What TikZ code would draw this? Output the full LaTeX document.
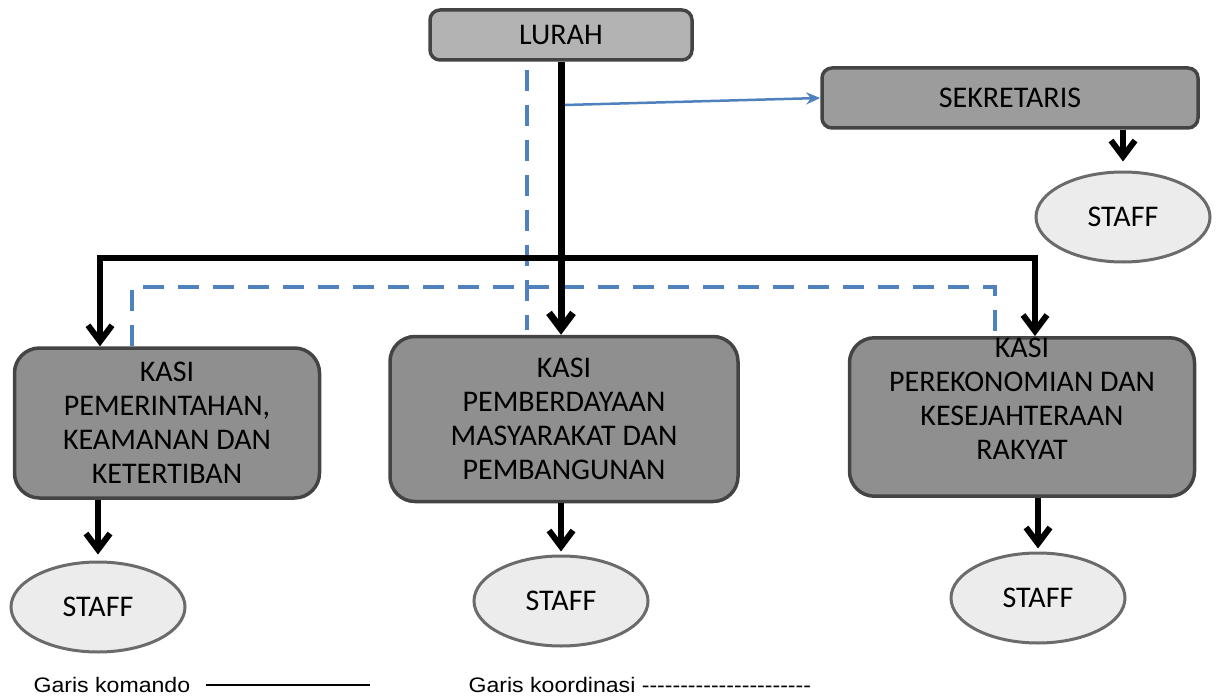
\documentclass[tikz,border=0pt]{standalone}
\usepackage{fontspec}
\setmainfont{Carlito}
\newfontfamily\legendfont[FakeStretch=1.1,Ligatures=TeXOff]{Liberation Sans}
\usepackage{tikz}
\usetikzlibrary{shapes,arrows,positioning,calc,arrows.meta}

\definecolor{lurahfill}{HTML}{B3B3B3}
\definecolor{sekfill}{HTML}{9C9C9C}
\definecolor{kasifill}{HTML}{8F8F8F}
\definecolor{rim}{HTML}{444444}
\definecolor{staffill}{HTML}{ECECEC}
\definecolor{staffrim}{HTML}{6B6B6B}
\definecolor{koordblue}{HTML}{4F81BD}

\begin{document}
\begin{tikzpicture}[x=1pt,y=-1pt,
        headbox/.style={draw=rim,line width=3.5pt,rounded corners=10pt,inner sep=0pt,font=\fontsize{30}{34}\selectfont},
        kasibox/.style={draw=rim,line width=3.5pt,fill=kasifill,rounded corners=25pt,align=center,inner sep=0pt,font=\fontsize{30}{34}\selectfont},
        staff/.style={ellipse,draw=staffrim,line width=3pt,fill=staffill,minimum width=174pt,minimum height=90pt,inner sep=0pt,font=\fontsize{30}{34}\selectfont},
        komando/.style={line width=6pt,-{Straight Barb[length=16pt,width=24pt]}},
        koord/.style={draw=koordblue,line width=4pt,dash pattern=on 21pt off 14pt},
        koordarrow/.style={draw=koordblue,line width=2.5pt,-{Stealth[length=14pt,width=12pt]}}]
        \useasboundingbox (0,0) rectangle (1221,698);

        \node[headbox,fill=lurahfill,minimum width=262pt,minimum height=50pt] (lurah) at (561,35) {LURAH};
        \node[headbox,fill=sekfill,minimum width=376pt,minimum height=60pt] (sekretaris) at (1010,98) {SEKRETARIS};
        \node[staff] (staffsek) at (1123,217) {STAFF};

        \node[kasibox,minimum width=305pt,minimum height=150pt] (kasipem) at (167,423) {KASI\\PEMERINTAHAN,\\KEAMANAN DAN\\KETERTIBAN};
        \node[kasibox,minimum width=348pt,minimum height=165pt] (kasipmd) at (564,419) {KASI\\PEMBERDAYAAN\\MASYARAKAT DAN\\PEMBANGUNAN};
        \node[kasibox,minimum width=345pt,minimum height=150pt,text depth=37pt] (kasiek) at (1022,417) {KASI\\PEREKONOMIAN DAN\\KESEJAHTERAAN\\RAKYAT};

        \node[staff] (staffpem) at (98,607) {STAFF};
        \node[staff] (staffpmd) at (561,601) {STAFF};
        \node[staff] (staffek) at (1038,598) {STAFF};

        \coordinate (kl) at (100,258);
        \coordinate (kr) at (1035,258);
        \coordinate (tap) at (565,105);
        \coordinate (dtop) at (527,70);
        \coordinate (dbot) at (527,330);
        \coordinate (dl) at (132,287);
        \coordinate (dr) at (995,287);

        \draw[koord] (dtop) -- (dbot);
        \draw[koord] (dl |- kasipem.north) -- (dl) -- (dr) -- (dr |- kasiek.north);

        \draw[komando,line width=7pt] (lurah.south) -- (lurah.south |- kasipmd.north);
        \draw[komando,{Straight Barb[length=16pt,width=24pt]}-{Straight Barb[length=16pt,width=24pt]}] (kl |- kasipem.north) -- (kl) -- (kr) -- (kr |- kasiek.north);
        \draw[koordarrow] (tap) -- (sekretaris.west);

        \draw[komando,shorten >=9pt] (staffsek.north |- sekretaris.south) -- (staffsek.north);
        \draw[komando,shorten >=6pt] (staffpem.north |- kasipem.south) -- (staffpem.north);
        \draw[komando,shorten >=3pt] (staffpmd.north |- kasipmd.south) -- (staffpmd.north);
        \draw[komando,shorten >=3pt] (staffek.north |- kasiek.south) -- (staffek.north);

        \node[anchor=base west,font=\legendfont\fontsize{21}{24}\selectfont] (legkom) at (30,692) {Garis komando};
        \draw[line width=2pt] ([xshift=12pt]legkom.east) -- ++(164,0);
        \node[anchor=base west,font=\legendfont\fontsize{21}{24}\selectfont] (legkoord) at (465,692) {Garis koordinasi ----------------------};
\end{tikzpicture}
\end{document}
